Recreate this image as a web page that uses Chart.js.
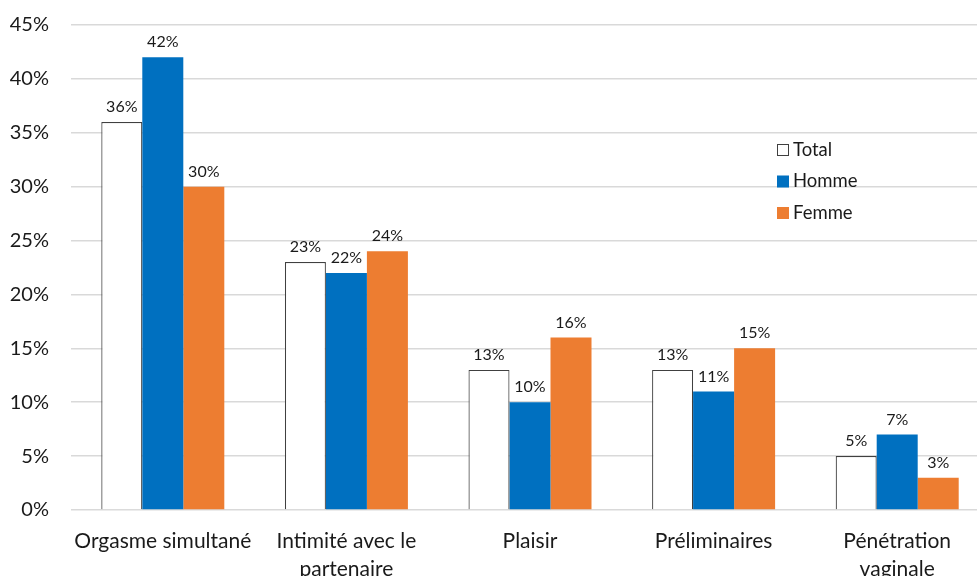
<!DOCTYPE html>
<html>
<head>
<meta charset="utf-8">
<script src="https://cdn.jsdelivr.net/npm/chart.js@4/dist/chart.umd.min.js"></script>
<style>
  html, body { margin: 0; padding: 0; background: #fff; overflow: hidden; }
  #wrap { width: 977px; height: 576px; overflow: hidden; }
</style>
</head>
<body>
<div id="wrap"><canvas id="chart" width="989" height="576"></canvas></div>
<script>
// Categories and series (percent)
const categories = [
  'Orgasme simultané',
  ['Intimité avec le', 'partenaire'],
  'Plaisir',
  'Préliminaires',
  ['Pénétration', 'vaginale'],
];
const totalValues = [36, 23, 13, 13, 5];
const hommeValues = [42, 22, 10, 11, 7];
const femmeValues = [30, 24, 16, 15, 3];
const yTicks = [0, 5, 10, 15, 20, 25, 30, 35, 40, 45];

const fontFamily = 'Lato, "Open Sans", sans-serif';
const textColor = '#1a1a1a';

// Value labels above each bar
const barLabels = {
  id: 'barLabels',
  afterDatasetsDraw(chart) {
    const { ctx } = chart;
    ctx.save();
    ctx.font = `16px ${fontFamily}`;
    ctx.fillStyle = textColor;
    ctx.textAlign = 'center';
    ctx.textBaseline = 'middle';
    chart.data.datasets.forEach((ds, i) => {
      chart.getDatasetMeta(i).data.forEach((bar, j) => {
        ctx.fillText(`${ds.data[j]}%`, bar.x, bar.y - 15);
      });
    });
    ctx.restore();
  },
};

// Legend drawn inside the plot area, on the right
const innerLegend = {
  id: 'innerLegend',
  afterDraw(chart) {
    const { ctx } = chart;
    const x = 777;
    let y = 150;
    ctx.save();
    ctx.font = `18.5px ${fontFamily}`;
    ctx.textBaseline = 'middle';
    chart.data.datasets.forEach((ds) => {
      ctx.fillStyle = ds.backgroundColor;
      ctx.fillRect(x, y - 6, 12, 12);
      if (ds.borderWidth) {
        ctx.strokeStyle = ds.borderColor;
        ctx.lineWidth = 1;
        ctx.strokeRect(x + 0.5, y - 5.5, 11, 11);
      }
      ctx.fillStyle = textColor;
      ctx.fillText(ds.label, x + 16, y);
      y += 31.5;
    });
    ctx.restore();
  },
};

new Chart(document.getElementById('chart'), {
  type: 'bar',
  data: {
    labels: categories,
    datasets: [
      {
        label: 'Total',
        data: totalValues,
        backgroundColor: '#ffffff',
        borderColor: '#404040',
        borderWidth: 1.2,
      },
      {
        label: 'Homme',
        data: hommeValues,
        backgroundColor: '#0070c0',
        borderWidth: 0,
      },
      {
        label: 'Femme',
        data: femmeValues,
        backgroundColor: '#ed7d31',
        borderWidth: 0,
      },
    ],
  },
  options: {
    responsive: false,
    animation: false,
    categoryPercentage: 0.67,
    barPercentage: 1,
    layout: { padding: { top: 25, right: 0, left: 0, bottom: 0 } },
    plugins: {
      legend: { display: false },
      tooltip: { enabled: false },
    },
    scales: {
      x: {
        grid: { display: false },
        border: { display: false },
        ticks: {
          color: textColor,
          padding: 10,
          maxRotation: 0,
          autoSkip: false,
          font: { family: fontFamily, size: 21, lineHeight: 1.3 },
        },
        afterFit(scale) {
          scale.height = 66;
          scale.paddingLeft = 0;
          scale.paddingRight = 0;
        },
      },
      y: {
        min: 0,
        max: 45,
        afterBuildTicks(scale) { scale.ticks = yTicks.map((v) => ({ value: v })); },
        grid: { color: '#d9d9d9', lineWidth: 1.5, drawTicks: false },
        border: { display: false },
        ticks: {
          color: textColor,
          padding: 22,
          font: { family: fontFamily, size: 20 },
          callback: (v) => `${v}%`,
        },
        afterFit(scale) {
          scale.width = 71;
          scale.paddingTop = 0;
          scale.paddingBottom = 0;
        },
      },
    },
  },
  plugins: [barLabels, innerLegend],
});
</script>
</body>
</html>
